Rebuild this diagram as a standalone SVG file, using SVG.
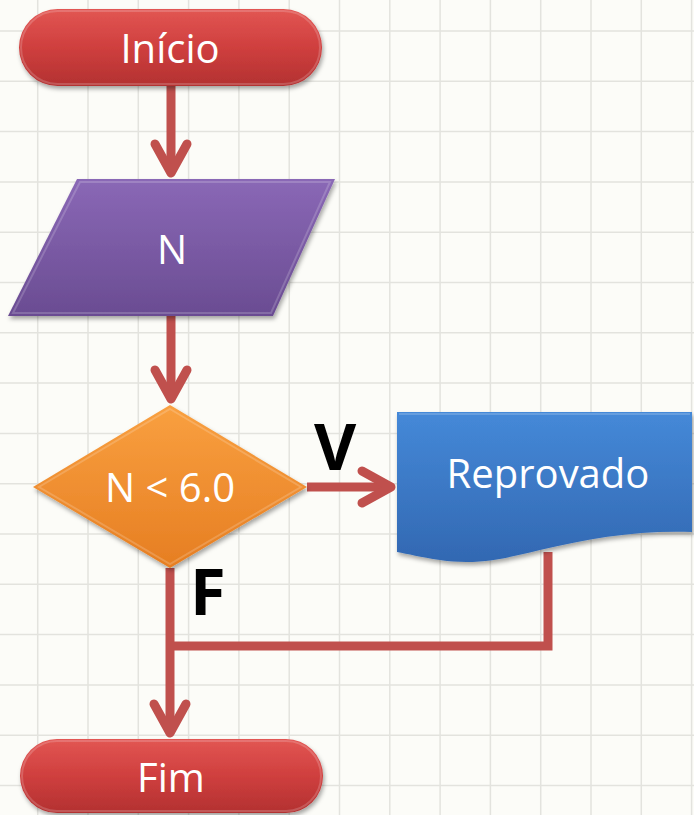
<svg xmlns="http://www.w3.org/2000/svg" width="694" height="815" viewBox="0 0 694 815">
<style>
.grid line{stroke:#e3e3de;stroke-width:1.5}
.lbl{font-family:"Open Sans","Liberation Sans",sans-serif;font-size:40px;fill:#ffffff;text-anchor:middle}
.big{font-family:"Open Sans","Liberation Sans",sans-serif;font-size:65px;font-weight:bold;fill:#000000}
.conn{fill:none;stroke:#c0504d;stroke-width:9}
.bevel{fill:none;stroke:#ffffff;stroke-opacity:0.18;stroke-width:2}
</style>
<defs>
<linearGradient id="gRed" x1="0" y1="0" x2="0" y2="1">
<stop offset="0" stop-color="#e25653"/><stop offset="0.5" stop-color="#cf3f3e"/><stop offset="1" stop-color="#b33131"/>
</linearGradient>
<linearGradient id="gPur" x1="0" y1="0" x2="0" y2="1">
<stop offset="0" stop-color="#8a68b6"/><stop offset="1" stop-color="#6a4c92"/>
</linearGradient>
<linearGradient id="gOra" x1="0" y1="0" x2="0" y2="1">
<stop offset="0" stop-color="#f9a040"/><stop offset="1" stop-color="#e67e22"/>
</linearGradient>
<linearGradient id="gBlu" x1="0" y1="0" x2="0" y2="1">
<stop offset="0" stop-color="#4589d8"/><stop offset="1" stop-color="#3268b2"/>
</linearGradient>
<filter id="sh" x="-10%" y="-10%" width="120%" height="130%">
<feDropShadow dx="1.5" dy="3" stdDeviation="2" flood-color="#000" flood-opacity="0.35"/>
</filter>
<marker id="ah" viewBox="0 0 40 40" refX="36" refY="20" markerWidth="40" markerHeight="40" markerUnits="userSpaceOnUse" orient="auto" overflow="visible">
<path d="M7,4 L36,20 L7,36" fill="none" stroke="#c0504d" stroke-width="9" stroke-linecap="round" stroke-linejoin="round"/>
</marker>
</defs>
<rect width="694" height="815" fill="#fcfcf8"/>
<g class="grid">
<line x1="37.7" y1="0" x2="37.7" y2="815"/><line x1="88" y1="0" x2="88" y2="815"/><line x1="138.3" y1="0" x2="138.3" y2="815"/><line x1="188.6" y1="0" x2="188.6" y2="815"/><line x1="238.9" y1="0" x2="238.9" y2="815"/><line x1="289.2" y1="0" x2="289.2" y2="815"/><line x1="339.5" y1="0" x2="339.5" y2="815"/><line x1="389.8" y1="0" x2="389.8" y2="815"/><line x1="440.1" y1="0" x2="440.1" y2="815"/><line x1="490.4" y1="0" x2="490.4" y2="815"/><line x1="540.7" y1="0" x2="540.7" y2="815"/><line x1="591" y1="0" x2="591" y2="815"/><line x1="641.3" y1="0" x2="641.3" y2="815"/><line x1="691.6" y1="0" x2="691.6" y2="815"/>
<line x1="0" y1="31" x2="694" y2="31"/><line x1="0" y1="81.3" x2="694" y2="81.3"/><line x1="0" y1="131.6" x2="694" y2="131.6"/><line x1="0" y1="181.9" x2="694" y2="181.9"/><line x1="0" y1="232.2" x2="694" y2="232.2"/><line x1="0" y1="282.5" x2="694" y2="282.5"/><line x1="0" y1="332.8" x2="694" y2="332.8"/><line x1="0" y1="383.1" x2="694" y2="383.1"/><line x1="0" y1="433.4" x2="694" y2="433.4"/><line x1="0" y1="483.7" x2="694" y2="483.7"/><line x1="0" y1="534" x2="694" y2="534"/><line x1="0" y1="584.3" x2="694" y2="584.3"/><line x1="0" y1="634.6" x2="694" y2="634.6"/><line x1="0" y1="684.9" x2="694" y2="684.9"/><line x1="0" y1="735.2" x2="694" y2="735.2"/><line x1="0" y1="785.5" x2="694" y2="785.5"/>
</g>
<g id="connectors">
<path class="conn" d="M171,86 L171,173" marker-end="url(#ah)"/>
<path class="conn" d="M171,316 L171,399" marker-end="url(#ah)"/>
<path class="conn" d="M307,487 L391,487" marker-end="url(#ah)"/>
<path class="conn" d="M170,568 L170,733" marker-end="url(#ah)"/>
<path class="conn" d="M548,552 L548,646 L170,646"/>
</g>
<g id="inicio">
<rect x="19" y="9" width="303" height="77" rx="38.5" fill="url(#gRed)" filter="url(#sh)"/>
<rect x="21" y="11" width="299" height="73" rx="36.5" class="bevel"/>
<text class="lbl" x="170" y="63">Início</text>
</g>
<g id="entrada-n">
<polygon points="77,179 335,179 273,316 8,316" fill="url(#gPur)" filter="url(#sh)"/>
<polygon points="80,182 330,182 271,313 13,313" class="bevel"/>
<text class="lbl" x="172" y="264">N</text>
</g>
<g id="decisao">
<polygon points="170,405 307,487 170,568 33,487" fill="url(#gOra)" filter="url(#sh)"/>
<polygon points="170,409 301,487 170,564 39,487" class="bevel"/>
<text class="lbl" x="170" y="502">N &lt; 6.0</text>
</g>
<g id="reprovado">
<path d="M397,412 H692 V532 C640,530 590,538 540,550 C510,557 480,566 440,560 C420,557 408,554 397,552 Z" fill="url(#gBlu)" filter="url(#sh)"/>
<path d="M399,414 H690" class="bevel"/>
<text class="lbl" x="548" y="488">Reprovado</text>
</g>
<g id="fim">
<rect x="20" y="739" width="303" height="74" rx="37" fill="url(#gRed)" filter="url(#sh)"/>
<rect x="22" y="741" width="299" height="70" rx="35" class="bevel"/>
<text class="lbl" x="171" y="792">Fim</text>
</g>
<g id="labels">
<text class="big" x="335" y="470" text-anchor="middle">V</text>
<text class="big" x="190" y="615">F</text>
</g>
</svg>
